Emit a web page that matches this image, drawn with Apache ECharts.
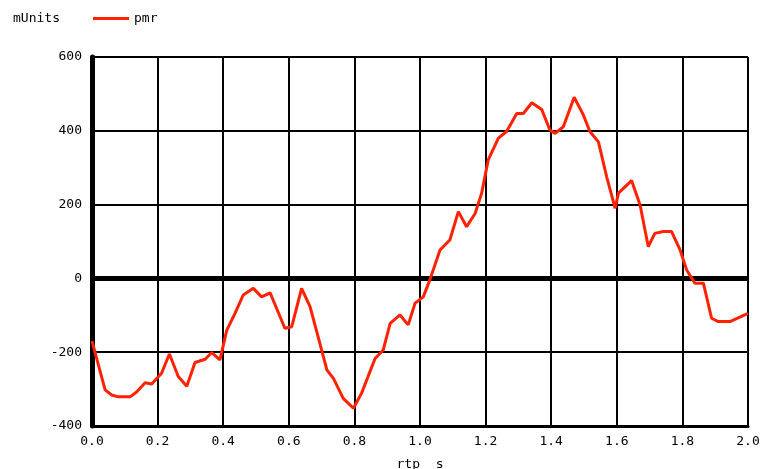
<!DOCTYPE html>
<html><head><meta charset="utf-8">
<script src="https://cdn.jsdelivr.net/npm/echarts@6/dist/echarts.min.js"></script>
<style>html,body{margin:0;padding:0;background:#fff}#c{width:765px;height:469px}</style>
</head><body><div id="c"></div>
<script>
const seriesName = 'pmr';
const unitLabel = 'mUnits';
const xAxisName = 'rtp  s';
const xTicks = [0.0, 0.2, 0.4, 0.6, 0.8, 1.0, 1.2, 1.4, 1.6, 1.8, 2.0];
const yTicks = [-400, -200, 0, 200, 400, 600];
const tValues = [0.0,0.04,0.06,0.08,0.116,0.136,0.162,0.182,0.212,0.236,0.263,0.289,0.314,0.345,0.365,0.39,0.411,0.436,0.461,0.492,0.517,0.543,0.588,0.609,0.639,0.665,0.70,0.716,0.736,0.766,0.797,0.822,0.863,0.888,0.909,0.939,0.964,0.985,1.01,1.03,1.061,1.091,1.117,1.142,1.168,1.188,1.208,1.239,1.264,1.295,1.315,1.341,1.371,1.396,1.412,1.437,1.47,1.498,1.518,1.544,1.569,1.595,1.605,1.645,1.671,1.696,1.716,1.742,1.767,1.793,1.813,1.838,1.864,1.889,1.909,1.945,2.0];
const pmrValues = [-170,-302,-316,-321,-321,-308,-283,-286,-257,-205,-266,-292,-228,-219,-201,-221,-140,-95,-45,-27,-50,-39,-135,-131,-27,-77,-194,-248,-271,-325,-352,-311,-217,-194,-122,-99,-126,-67,-50,-4,77,104,181,140,176,231,321,380,398,447,447,476,458,402,393,411,491,443,398,370,276,190,231,265,199,86,122,127,127,77,23,-13,-13,-108,-117,-117,-95];

const font = 'DejaVu Sans Mono';
const chart = echarts.init(document.getElementById('c'));
chart.setOption({
  animation: false,
  backgroundColor: '#fff',
  title: { text: unitLabel, left: 8, top: 7, textStyle: { fontFamily: font, fontSize: 13, fontWeight: 'normal', color: '#000' } },
  legend: { left: 88, top: 7, icon: 'rect', itemWidth: 36, itemHeight: 3, itemGap: 8,
    data: [seriesName], textStyle: { fontFamily: font, fontSize: 13, color: '#000' } },
  grid: { left: 92, right: 17, top: 57, bottom: 43, containLabel: false, outerBoundsMode: 'none' },
  xAxis: {
    type: 'value', min: xTicks[0], max: xTicks[xTicks.length-1], interval: 0.2,
    name: xAxisName, nameLocation: 'middle', nameGap: 32,
    nameTextStyle: { fontFamily: font, fontSize: 13, color: '#000' },
    axisLine: { onZero: false, lineStyle: { color: '#000', width: 3 } },
    axisTick: { show: false },
    axisLabel: { margin: 9, fontFamily: font, fontSize: 13, color: '#000', formatter: v => v.toFixed(1) },
    splitLine: { show: true, lineStyle: { color: '#000', width: 2 } }
  },
  yAxis: {
    type: 'value', min: yTicks[0], max: yTicks[yTicks.length-1], interval: 200,
    axisLine: { show: true, onZero: false, lineStyle: { color: '#000', width: 5 } },
    axisTick: { show: false },
    axisLabel: { margin: 10, fontFamily: font, fontSize: 13, color: '#000' },
    splitLine: { show: true, lineStyle: { color: '#000', width: 2 } }
  },
  series: [{
    name: seriesName, type: 'line', showSymbol: false, symbol: 'none',
    data: tValues.map((t, i) => [t, pmrValues[i]]),
    lineStyle: { color: '#ff2200', width: 3 }, itemStyle: { color: '#ff2200' },
    markLine: { silent: true, symbol: 'none', label: { show: false },
      lineStyle: { color: '#000', width: 5, type: 'solid' }, data: [{ yAxis: 0 }], z: 1 },
    z: 3
  }]
});
</script></body></html>
